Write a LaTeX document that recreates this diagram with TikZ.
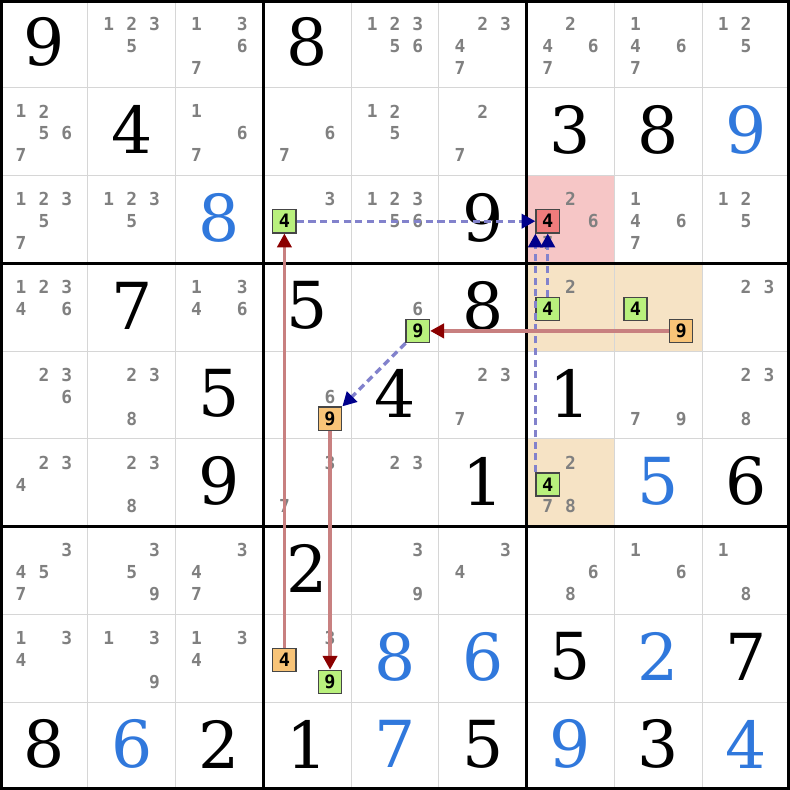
\documentclass[tikz,border=0pt]{standalone}
\usepackage{fontspec}
\newfontfamily\candfont{DejaVu Sans Mono}
\newfontfamily\bigfont{DejaVu Serif}
\usetikzlibrary{arrows.meta}

\definecolor{solvedblue}{RGB}{48,120,220}
\definecolor{candgray}{RGB}{128,128,128}
\definecolor{gridgray}{RGB}{214,214,214}
\definecolor{cellpink}{RGB}{246,198,198}
\definecolor{cellorange}{RGB}{246,227,197}
\definecolor{boxgreen}{RGB}{185,240,125}
\definecolor{boxorange}{RGB}{248,196,120}
\definecolor{boxred}{RGB}{240,124,124}
\definecolor{boxline}{RGB}{70,70,70}
\definecolor{linkred}{RGB}{200,128,128}
\definecolor{tipred}{RGB}{139,0,0}
\definecolor{linkblue}{RGB}{130,130,204}
\definecolor{tipblue}{RGB}{0,0,139}

\tikzset{
  cand/.style={font=\candfont\bfseries\fontsize{5.8}{6}\selectfont, text=candgray, inner sep=0pt},
  given/.style={font=\bigfont\fontsize{21}{21}\selectfont, inner sep=0pt},
  solved/.style={given, text=solvedblue},
  markbox/.style={draw=boxline, line width=0.45pt, minimum size=0.265cm, inner sep=0pt,
    font=\candfont\bfseries\fontsize{6}{6}\selectfont},
  strong/.style={draw=linkred, line width=1.1pt, -{Triangle[length=4.5pt,width=4.6pt,color=tipred]}},
  weak/.style={draw=linkblue, line width=1.1pt, dash pattern=on 2.3pt off 1.5pt,
    -{Triangle[length=4.5pt,width=4.6pt,color=tipblue]}}
}

\begin{document}
\begin{tikzpicture}
  \useasboundingbox (0,0) rectangle (9,9);
  % highlighted cells
  \fill [cellpink] (6,6) rectangle (7,7);
  \fill [cellorange] (6,5) rectangle (8,6);
  \fill [cellorange] (6,3) rectangle (7,4);
  % grid
  \foreach \i in {1,...,8} {
    \draw [gridgray,line width=0.35pt] (\i,0) -- (\i,9);
    \draw [gridgray,line width=0.35pt] (0,\i) -- (9,\i);
  }
  \foreach \i in {3,6} {
    \draw [black,line width=1.1pt] (\i,0) -- (\i,9);
    \draw [black,line width=1.1pt] (0,\i) -- (9,\i);
  }
  \draw [black,line width=2pt] (0,0) rectangle (9,9);

  % given digits
  \foreach \r/\c/\v in {1/1/9, 1/4/8, 2/2/4, 2/7/3, 2/8/8, 3/6/9, 4/2/7, 4/4/5, 4/6/8,
      5/3/5, 5/5/4, 5/7/1, 6/3/9, 6/6/1, 6/9/6, 7/4/2, 8/7/5, 8/9/7,
      9/1/8, 9/3/2, 9/4/1, 9/6/5, 9/8/3}
    \node [given] (v\r\c) at (\c-0.5,9.52-\r) {\v};
  % solved digits
  \foreach \r/\c/\v in {2/9/9, 3/3/8, 6/8/5, 8/5/8, 8/6/6, 8/8/2, 9/2/6, 9/5/7, 9/7/9, 9/9/4}
    \node [solved] (s\r\c) at (\c-0.5,9.52-\r) {\v};

  % candidates
  \foreach \r/\c/\ds in {1/2/{1,2,3,5}, 1/3/{1,3,6,7}, 1/5/{1,2,3,5,6}, 1/6/{2,3,4,7},
      1/7/{2,4,6,7}, 1/8/{1,4,6,7}, 1/9/{1,2,5},
      2/1/{1,2,5,6,7}, 2/3/{1,6,7}, 2/4/{6,7}, 2/5/{1,2,5}, 2/6/{2,7},
      3/1/{1,2,3,5,7}, 3/2/{1,2,3,5}, 3/4/{3}, 3/5/{1,2,3,5,6}, 3/7/{2,6,7},
      3/8/{1,4,6,7}, 3/9/{1,2,5},
      4/1/{1,2,3,4,6}, 4/3/{1,3,4,6}, 4/5/{6}, 4/7/{2}, 4/9/{2,3},
      5/1/{2,3,6}, 5/2/{2,3,8}, 5/4/{6}, 5/6/{2,3,7}, 5/8/{7,9}, 5/9/{2,3,8},
      6/1/{2,3,4}, 6/2/{2,3,8}, 6/4/{3,7}, 6/5/{2,3}, 6/7/{2,7,8},
      7/1/{3,4,5,7}, 7/2/{3,5,9}, 7/3/{3,4,7}, 7/5/{3,9}, 7/6/{3,4},
      7/7/{6,8}, 7/8/{1,6}, 7/9/{1,8},
      8/1/{1,3,4}, 8/2/{1,3,9}, 8/3/{1,3,4}, 8/4/{3}} {
    \foreach \d in \ds {
      \pgfmathtruncatemacro\cx{mod(\d-1,3)}
      \pgfmathtruncatemacro\cy{(\d-1)/3}
      \node [cand] (k\r\c\d) at ({\c-0.5+(\cx-1)*0.26},{9.73-\r-0.25*\cy}) {\d};
    }
  }

  % marked candidates
  \node [markbox,fill=boxgreen]  (mark34)  at (3.24,6.48) {4};
  \node [markbox,fill=boxred]    (mark37)  at (6.24,6.48) {4};
  \node [markbox,fill=boxgreen]  (mark45)  at (4.76,5.23) {9};
  \node [markbox,fill=boxgreen]  (mark47)  at (6.24,5.48) {4};
  \node [markbox,fill=boxgreen]  (mark48a) at (7.24,5.48) {4};
  \node [markbox,fill=boxorange] (mark48b) at (7.76,5.23) {9};
  \node [markbox,fill=boxorange] (mark54)  at (3.76,4.23) {9};
  \node [markbox,fill=boxgreen]  (mark67)  at (6.24,3.48) {4};
  \node [markbox,fill=boxorange] (mark84a) at (3.24,1.48) {4};
  \node [markbox,fill=boxgreen]  (mark84b) at (3.76,1.23) {9};

  % links
  \draw [strong] (mark84a) -- (mark34);
  \draw [weak] (mark34) -- (mark37);
  \draw [weak] (mark47) -- (mark37);
  \draw [weak] (mark67.north west) -- (mark37.south west);
  \draw [strong] (mark48b) -- (mark45);
  \draw [weak] (mark45) -- (mark54);
  \draw [strong] (mark54) -- (mark84b);
\end{tikzpicture}
\end{document}
